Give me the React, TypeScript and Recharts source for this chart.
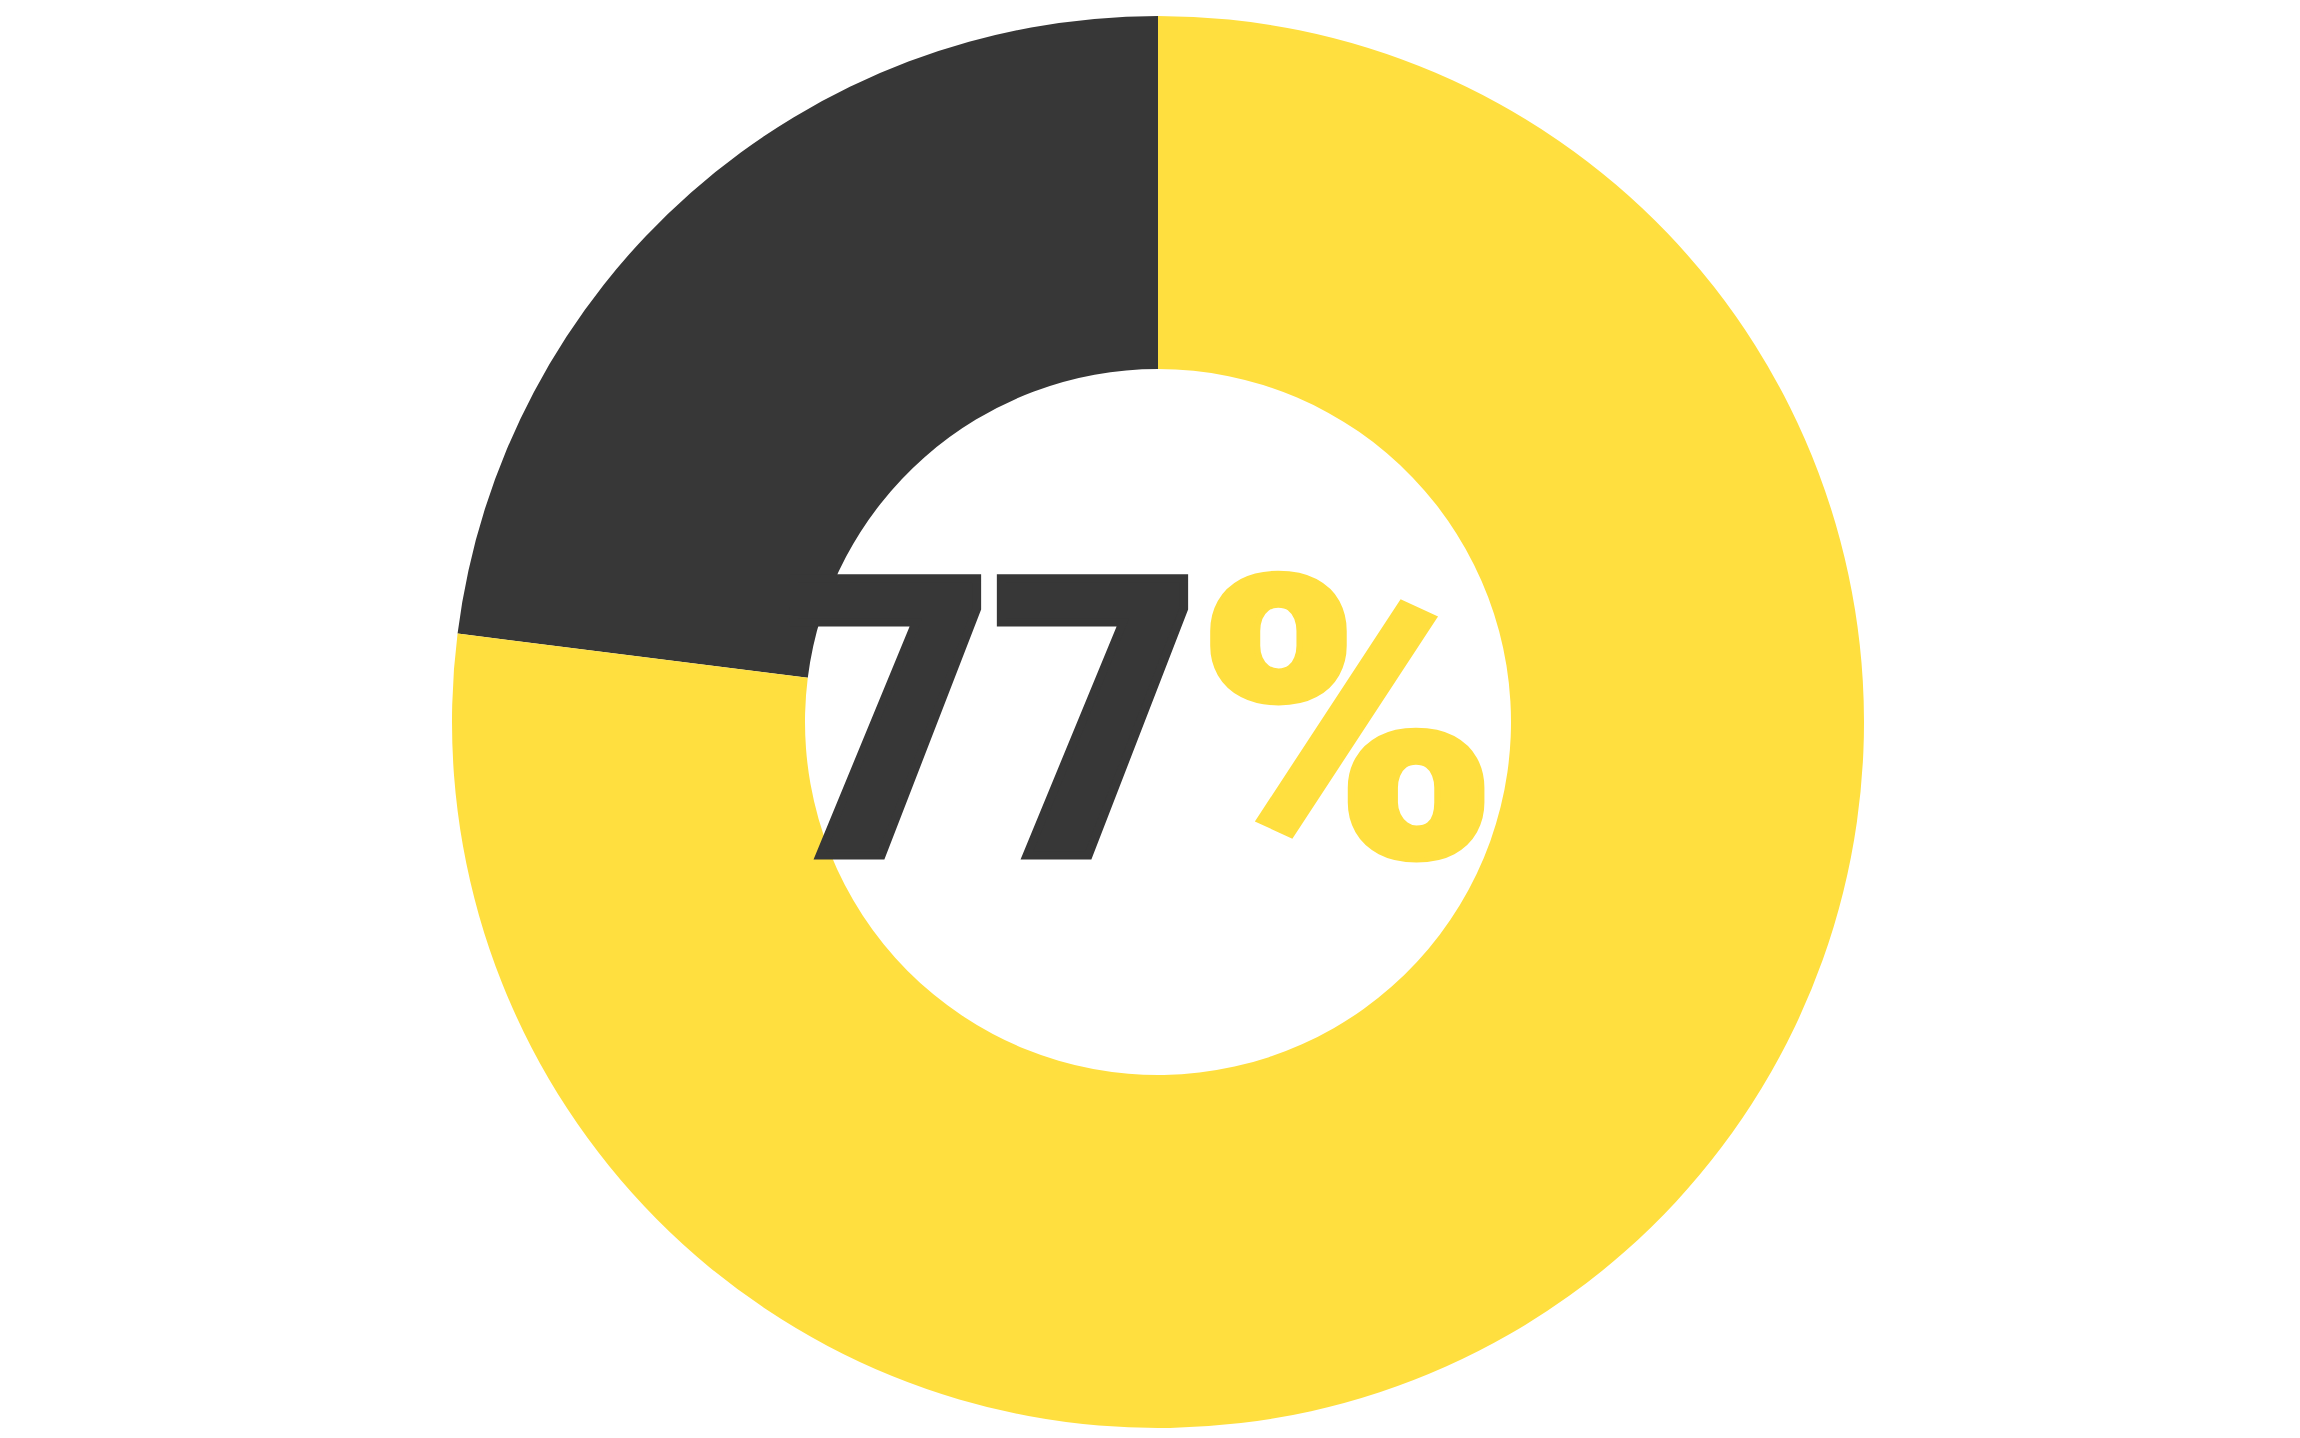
import React from 'react';
import { PieChart, Pie, Cell, Label } from 'recharts';

const names = ['Other', 'Share'];
const values = [23, 77];
const colors = ['#373737', '#FFDF3F'];
const centerNumber = '77';
const centerSuffix = '%';

const data = names.map((name, i) => ({ name, value: values[i] }));

const FONT = "'Roboto Condensed', Roboto, sans-serif";

const CenterLabel = (props: any) => {
  const vb = props.viewBox || {};
  const cx = vb.cx ?? 1158;
  const cy = vb.cy ?? 722;
  const numScale = 1.09;
  const pitch = 207 / numScale;
  return (
    <g>
      <g transform={`translate(${cx - 378}, ${cy + 133.5}) scale(${numScale}, 1)`}>
        <text
          x={`0 ${pitch}`}
          y={0}
          textAnchor="start"
          fontFamily={FONT}
          fontWeight={700}
          fontSize={390}
          fill={colors[0]}
          stroke={colors[0]}
          strokeWidth={8}
          strokeLinejoin="miter"
        >
          {centerNumber}
        </text>
      </g>
      <g transform={`translate(${cx + 32}, ${cy + 134}) scale(1.25, 1)`}>
        <text
          x={0}
          y={0}
          textAnchor="start"
          fontFamily={FONT}
          fontWeight={700}
          fontSize={392}
          fill={colors[1]}
          stroke={colors[1]}
          strokeWidth={5}
        >
          {centerSuffix}
        </text>
      </g>
    </g>
  );
};

export default function App() {
  return (
    <div style={{ position: 'absolute', left: 0, top: 0, width: 2300, height: 1438, background: '#fff' }}>
      <PieChart width={2300} height={1438} margin={{ top: 0, right: 0, bottom: 0, left: 0 }}>
        <Pie
          data={data}
          dataKey="value"
          nameKey="name"
          cx={1158}
          cy={722}
          innerRadius={353}
          outerRadius={706}
          startAngle={90}
          endAngle={450}
          stroke="none"
          isAnimationActive={false}
        >
          {data.map((d, i) => (
            <Cell key={d.name} fill={colors[i]} />
          ))}
          <Label position="center" content={<CenterLabel />} />
        </Pie>
      </PieChart>
    </div>
  );
}
